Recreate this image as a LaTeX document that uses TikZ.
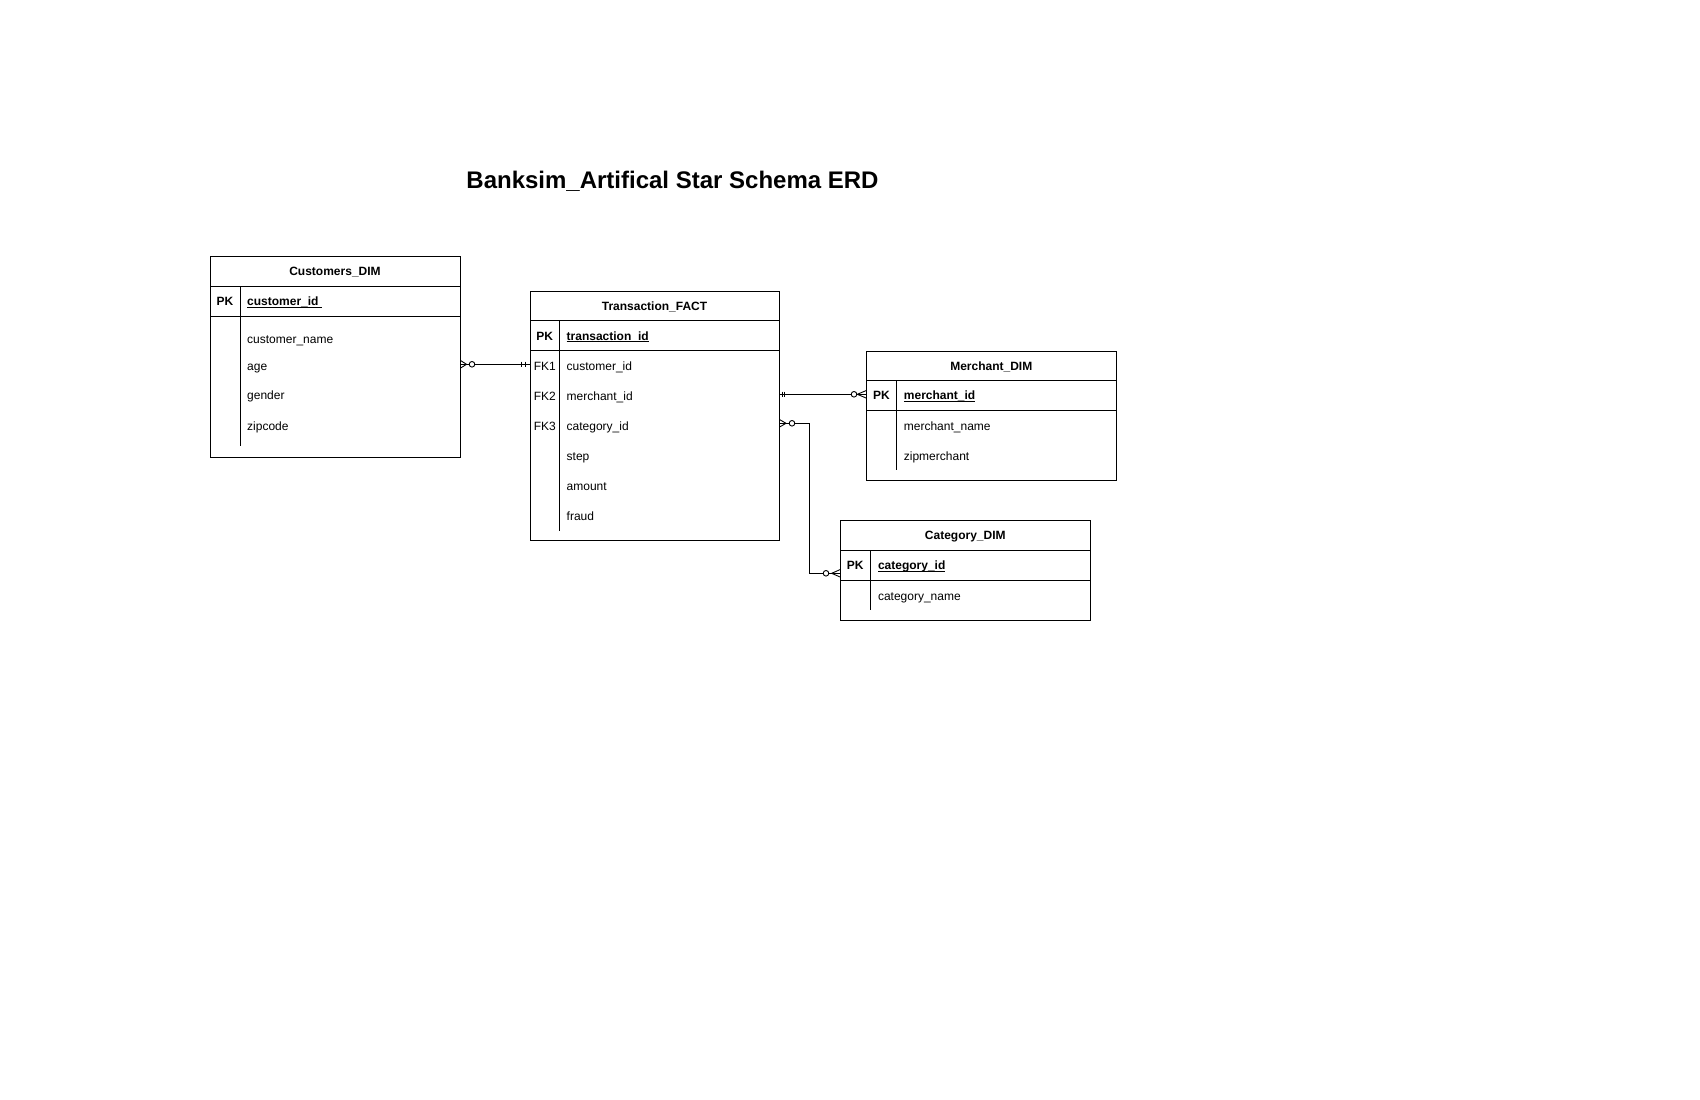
\documentclass[tikz,border=0pt]{standalone}
\usepackage{fontspec}
\setmainfont{Liberation Sans}
\usetikzlibrary{calc}
\newcommand\keyul[1]{\setbox0\hbox{#1}\rlap{\vrule width\wd0 height -1.4pt depth 2.4pt}\box0}
\begin{document}
\begin{tikzpicture}[x=1pt,y=-1pt,
  ent/.style={draw, line width=1pt, inner sep=0pt, anchor=north west},
  sepline/.style={line width=1pt},
  divline/.style={line width=1pt},
  ttl/.style={font=\fontsize{24}{28}\selectfont\bfseries, inner sep=0pt, anchor=base},
  hdr/.style={font=\fontsize{12}{14.4}\selectfont\bfseries, inner sep=0pt, anchor=base},
  keycol/.style={font=\fontsize{12}{14.4}\selectfont\bfseries, inner sep=0pt, anchor=base},
  fkcol/.style={font=\fontsize{12}{14.4}\selectfont, inner sep=0pt, anchor=base},
  keyfld/.style={font=\fontsize{12}{14.4}\selectfont\bfseries, inner sep=0pt, anchor=base west},
  fld/.style={font=\fontsize{12}{14.4}\selectfont, inner sep=0pt, anchor=base west},
  conn/.style={line width=0.9pt},
  knot/.style={draw, fill=white, circle, minimum size=5.6pt, inner sep=0pt, line width=0.9pt}]
\fill[white] (0,0) rectangle (1700,1100);
\useasboundingbox (0,0) rectangle (1700,1100);

% title
\node[ttl] (title) at (672.5,188) {Banksim\_Artifical Star Schema ERD};

% ---------------- Customers_DIM
\node[ent, minimum width=250pt, minimum height=201.3pt] (cust) at (210,256) {};
\draw[sepline] (210,286) -- (460,286);
\draw[sepline] (210,316) -- (460,316);
\draw[divline] (240,286) -- (240,446);
\node[hdr] (custT) at (335,275.5) {Customers\_DIM};
\node[keycol] (custPK) at (225,305.5) {PK};
\node[keyfld] (custId) at (247,305.5) {\keyul{customer\_id\ }};
\node[fld] (custN) at (247,343.5) {customer\_name};
\node[fld] (custA) at (247,370) {age};
\node[fld] (custG) at (247,399.8) {gender};
\node[fld] (custZ) at (247,430) {zipcode};

% ---------------- Transaction_FACT
\node[ent, minimum width=249pt, minimum height=249.3pt] (fact) at (530,290.7) {};
\draw[sepline] (530,320.7) -- (779,320.7);
\draw[sepline] (530,350.7) -- (779,350.7);
\draw[divline] (559.5,320.7) -- (559.5,530.7);
\node[hdr] (factT) at (654.5,310) {Transaction\_FACT};
\node[keycol] (factPK) at (544.75,340) {PK};
\node[keyfld] (factId) at (566.5,340) {\keyul{transaction\_id}};
\node[fkcol] (fk1) at (544.75,370) {FK1};
\node[fkcol] (fk2) at (544.75,400) {FK2};
\node[fkcol] (fk3) at (544.75,430) {FK3};
\node[fld] (factC) at (566.5,370) {customer\_id};
\node[fld] (factM) at (566.5,400) {merchant\_id};
\node[fld] (factK) at (566.5,430) {category\_id};
\node[fld] (factS) at (566.5,460) {step};
\node[fld] (factA) at (566.5,490) {amount};
\node[fld] (factF) at (566.5,520) {fraud};

% ---------------- Merchant_DIM
\node[ent, minimum width=250pt, minimum height=129.6pt] (merch) at (866.3,350.7) {};
\draw[sepline] (866.3,380.7) -- (1116.3,380.7);
\draw[sepline] (866.3,410.3) -- (1116.3,410.3);
\draw[divline] (896.7,380.7) -- (896.7,470);
\node[hdr] (merchT) at (991.3,370) {Merchant\_DIM};
\node[keycol] (merchPK) at (881.5,399.8) {PK};
\node[keyfld] (merchId) at (903.7,399.8) {\keyul{merchant\_id}};
\node[fld] (merchN) at (903.7,430) {merchant\_name};
\node[fld] (merchZ) at (903.7,460) {zipmerchant};

% ---------------- Category_DIM
\node[ent, minimum width=250pt, minimum height=100pt] (cat) at (840.3,520.3) {};
\draw[sepline] (840.3,550.3) -- (1090.3,550.3);
\draw[sepline] (840.3,580.3) -- (1090.3,580.3);
\draw[divline] (870.3,550.3) -- (870.3,610.3);
\node[hdr] (catT) at (965.3,539.8) {Category\_DIM};
\node[keycol] (catPK) at (855.3,569.8) {PK};
\node[keyfld] (catId) at (877.8,569.8) {\keyul{category\_id}};
\node[fld] (catN) at (877.8,600) {category\_name};

% ---------------- connector anchors
\coordinate (y1) at (0,364.3);
\coordinate (y2) at (0,394.3);
\coordinate (y3) at (0,423.3);
\coordinate (y4) at (0,573.3);
\coordinate (bx) at (809.7,0);
\coordinate (e1) at (cust.east |- y1);
\coordinate (f1) at (fact.west |- y1);
\coordinate (f2) at (fact.east |- y2);
\coordinate (m2) at (merch.west |- y2);
\coordinate (f3) at (fact.east |- y3);
\coordinate (g3) at (cat.west |- y4);

% Customers -- Transaction
\draw[conn] (e1) -- (f1);
\draw[conn] ($(e1)+(0,-3.5)$) -- ($(e1)+(5.5,0)$) -- ($(e1)+(0,3.5)$);
\node[knot] (k1) at ($(e1)+(11,0)$) {};
\draw[conn] ($(f1)+(-8.3,-2.8)$) -- ++(0,5.6);
\draw[conn] ($(f1)+(-5,-2.8)$) -- ++(0,5.6);

% Transaction -- Merchant
\draw[conn] (f2) -- (m2);
\draw[conn] ($(f2)+(2,-2.8)$) -- ++(0,5.6);
\draw[conn] ($(f2)+(4.7,-2.8)$) -- ++(0,5.6);
\draw[conn] ($(m2)+(0,-3.8)$) -- ($(m2)+(-9,0)$) -- ($(m2)+(0,3.8)$);
\node[knot] (k2) at ($(m2)+(-12.3,0)$) {};

% Transaction -- Category
\draw[conn] (f3) -- (f3 -| bx) -- (bx |- y4) -- (g3);
\draw[conn] ($(f3)+(0,-3.5)$) -- ($(f3)+(6,0)$) -- ($(f3)+(0,3.5)$);
\node[knot] (k3) at ($(f3)+(12,0)$) {};
\draw[conn] ($(g3)+(0,-3.8)$) -- ($(g3)+(-8.6,0)$) -- ($(g3)+(0,3.8)$);
\node[knot] (k4) at ($(g3)+(-14.3,0)$) {};
\end{tikzpicture}
\end{document}
